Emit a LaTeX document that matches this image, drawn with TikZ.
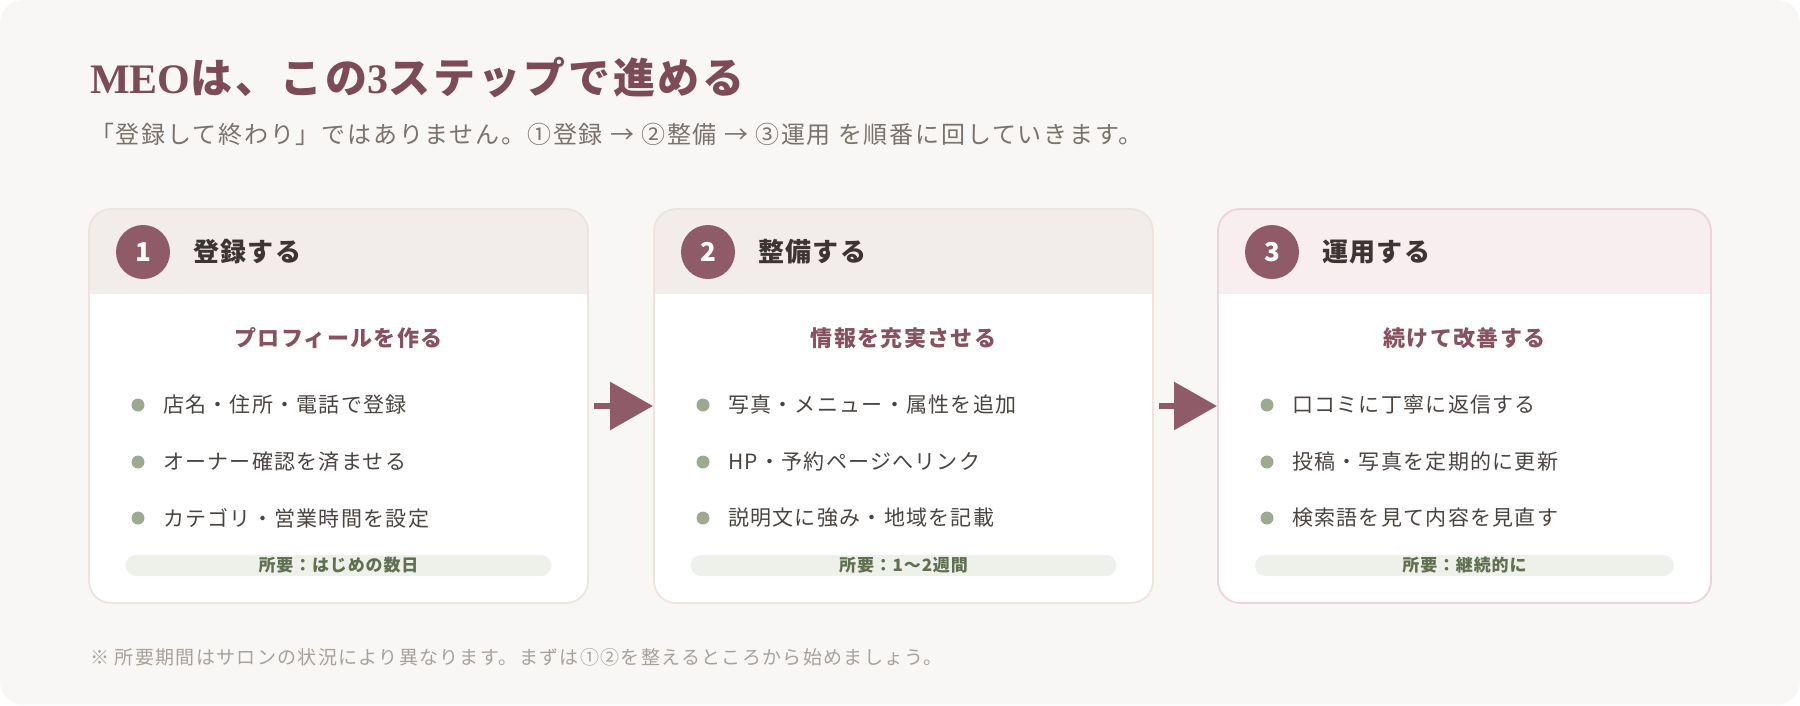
\documentclass[tikz,border=0pt]{standalone}
\usepackage{fontspec}
\setmainfont{Noto Sans CJK JP}
\newfontfamily\latinserif{Liberation Serif}
\usetikzlibrary{arrows.meta}
\definecolor{bgc}{HTML}{F8F7F5}
\definecolor{titlec}{HTML}{7D4B58}
\definecolor{subc}{HTML}{7A726D}
\definecolor{headc}{HTML}{F2EDEA}
\definecolor{headpink}{HTML}{F8EDEF}
\definecolor{borderc}{HTML}{EDE4DF}
\definecolor{borderpink}{HTML}{E9D5DB}
\definecolor{mauve}{HTML}{8F5B68}
\definecolor{cardsubc}{HTML}{87525F}
\definecolor{darktext}{HTML}{3D3533}
\definecolor{bodytext}{HTML}{4A4441}
\definecolor{sage}{HTML}{9DAA90}
\definecolor{pillc}{HTML}{EEF0EA}
\definecolor{pilltext}{HTML}{5F6F50}
\definecolor{footc}{HTML}{A8A19B}

\tikzset{
  cardbody/.style={rectangle, rounded corners=22pt, fill=white, minimum height=394pt, inner sep=0pt, outer sep=0pt},
  numcircle/.style={circle, fill=mauve, minimum size=54pt, inner sep=0pt, text=white,
    font=\fontsize{26}{30}\selectfont\bfseries},
  steptitle/.style={inner sep=0pt, anchor=west, text=darktext,
    font=\fontsize{26}{30}\selectfont\bfseries\addfontfeature{LetterSpace=5}},
  cardsub/.style={inner sep=0pt, text=cardsubc,
    font=\fontsize{22}{26}\selectfont\bfseries\addfontfeature{LetterSpace=6}},
  bdot/.style={circle, fill=sage, minimum size=13pt, inner sep=0pt},
  btext/.style={inner sep=0pt, anchor=west, text=bodytext,
    font=\fontsize{21}{25}\selectfont\addfontfeature{LetterSpace=6}},
  pill/.style={rectangle, rounded corners=10.5pt, fill=pillc, minimum height=21pt, inner sep=0pt,
    text=pilltext, font=\fontsize{17}{20}\selectfont\bfseries\addfontfeature{LetterSpace=5}},
  flowarrow/.style={draw=mauve, line width=6pt, -{Triangle[length=43pt,width=47pt]},
    shorten <=6pt, shorten >=1pt}
}

% #1 name, #2 left x, #3 width, #4 header colour, #5 border colour, #6 number, #7 title
\newcommand{\stepcard}[7]{%
  \node[cardbody, minimum width=#3pt, anchor=north west] (#1) at (#2,209) {};
  \begin{scope}
    \clip[rounded corners=22pt] (#1.north west) rectangle (#1.south east);
    \fill[#4] (#1.north west) rectangle ([yshift=-85pt]#1.north east);
  \end{scope}
  \draw[#5, line width=1.8pt, rounded corners=22pt] (#1.north west) rectangle (#1.south east);
  \node[numcircle] (#1num) at ([xshift=54pt,yshift=-43pt]#1.north west) {#6};
  \node[steptitle] (#1title) at ([xshift=104pt,yshift=-43pt]#1.north west) {#7};
}
% #1 name, #2 subtitle, #3 #4 #5 bullets
\newcommand{\cardcontent}[5]{%
  \node[cardsub] (#1sub) at ([yshift=-129pt]#1.north) {#2};
  \node[bdot] (#1d1) at ([xshift=49pt,yshift=-196pt]#1.north west) {};
  \node[bdot] (#1d2) at ([xshift=49pt,yshift=-253pt]#1.north west) {};
  \node[bdot] (#1d3) at ([xshift=49pt,yshift=-309pt]#1.north west) {};
  \node[btext] (#1t1) at ([xshift=74pt,yshift=-196pt]#1.north west) {#3};
  \node[btext] (#1t2) at ([xshift=74pt,yshift=-253pt]#1.north west) {#4};
  \node[btext] (#1t3) at ([xshift=74pt,yshift=-309pt]#1.north west) {#5};
}

\begin{document}
\begin{tikzpicture}[x=1pt,y=-1pt]
\useasboundingbox (0,0) rectangle (1800,705);
\fill[white] (0,0) rectangle (1800,705);
\fill[bgc, rounded corners=24pt] (0,0) rectangle (1800,705);

\node[anchor=base west, inner sep=0pt, text=titlec,
  font=\fontsize{42}{50}\selectfont\bfseries\addfontfeature{LetterSpace=7}] (title) at (90,93)
  {{\latinserif MEO}は、この{\latinserif 3}ステップで進める};

\node[anchor=west, inner sep=0pt, text=subc,
  font=\fontsize{24}{28}\selectfont\addfontfeature{LetterSpace=7.5}] (subtitle) at (90,134)
  {「登録して終わり」ではありません。①登録 → ②整備 → ③運用 を順番に回していきます。};

\stepcard{c1}{89}{499}{headc}{borderc}{1}{登録する}
\cardcontent{c1}{プロフィールを作る}{店名・住所・電話で登録}{オーナー確認を済ませる}{カテゴリ・営業時間を設定}
\node[pill, minimum width=426pt] (c1pill) at ([yshift=-356.5pt]c1.north) {所要：はじめの数日};

\stepcard{c2}{654}{499}{headc}{borderc}{2}{整備する}
\cardcontent{c2}{情報を充実させる}{写真・メニュー・属性を追加}{HP・予約ページへリンク}{説明文に強み・地域を記載}
\node[pill, minimum width=426pt] (c2pill) at ([yshift=-356.5pt]c2.north) {所要：1〜2週間};

\stepcard{c3}{1218}{493}{headpink}{borderpink}{3}{運用する}
\cardcontent{c3}{続けて改善する}{口コミに丁寧に返信する}{投稿・写真を定期的に更新}{検索語を見て内容を見直す}
\node[pill, minimum width=419pt] (c3pill) at ([yshift=-356.5pt]c3.north) {所要：継続的に};

\draw[flowarrow] (c1.east) -- (c2.west);
\draw[flowarrow] (c2.east) -- (c3.west);

\node[anchor=west, inner sep=0pt, text=footc,
  font=\fontsize{19}{23}\selectfont\addfontfeature{LetterSpace=7}] (note) at (90,657)
  {※ 所要期間はサロンの状況により異なります。まずは①②を整えるところから始めましょう。};
\end{tikzpicture}
\end{document}
